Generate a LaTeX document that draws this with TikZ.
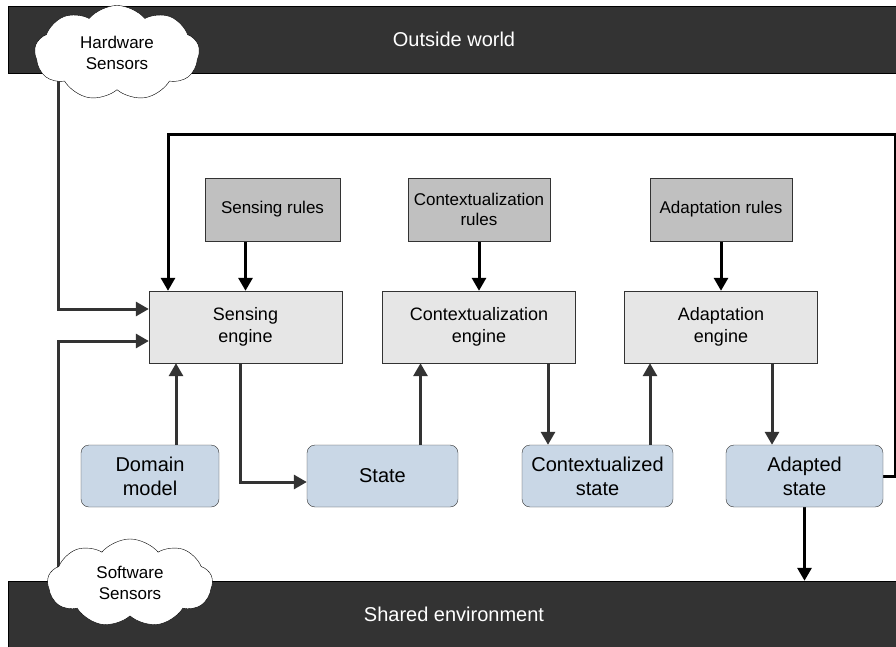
\documentclass[tikz,border=0pt]{standalone}
\usepackage{fontspec}
\setmainfont{Liberation Sans}
\usetikzlibrary{
		positioning,
		arrows.meta,
		shapes.symbols
	}
\tikzset{
		>={Triangle[length=13pt,width=14pt]}
	}
\pgfdeclarelayer{background}
\pgfsetlayers{background,main}
\definecolor{barblack}{RGB}{51,51,51}
\definecolor{rulegray}{RGB}{192,192,192}
\definecolor{enginegray}{RGB}{230,230,230}
\definecolor{stateblue}{RGB}{201,215,230}
\definecolor{linegray}{RGB}{51,51,51}

\begin{document}
\begin{tikzpicture}
		[x=1pt, y=-1pt, on grid,
		barbox/.style= {draw=black, fill=barblack, text=white, minimum width=892pt, minimum height=67pt, inner sep=0pt, font=\fontsize{20}{24}\selectfont},
		rulebox/.style= {draw=black!80, fill=rulegray, minimum width=142pt, minimum height=63pt, inner sep=0pt, align=center, font=\fontsize{17}{20}\selectfont},
		enginebox/.style= {draw=black!80, fill=enginegray, minimum width=193pt, minimum height=72pt, inner sep=0pt, align=center, font=\fontsize{18}{22}\selectfont},
		statebox/.style= {draw=black!80, fill=stateblue, rounded corners=8pt, minimum height=62pt, inner sep=0pt, align=center, font=\fontsize{20}{24}\selectfont},
		sensorcloud/.style= {cloud, cloud puffs=9, cloud puff arc=100, cloud ignores aspect, draw=black, fill=white, inner sep=0pt, align=center, font=\fontsize{17}{21}\selectfont},
		flowline/.style= {draw=linegray, line width=3pt, ->},
		feedline/.style= {draw=black, line width=3pt, ->}
		]
		\useasboundingbox (0,0) rectangle (896,647);

		\node [barbox] (OW) at (454,39.5) {Outside world};
		\node [barbox] (SH) at (454,614.5) {Shared environment};

		\node [enginebox] (SE) at (245.5,327) {Sensing\\engine};
		\node [enginebox] (CE) at (479,327) {Contextualization\\engine};
		\node [enginebox] (AE) at (721,327) {Adaptation\\engine};

		\node [rulebox, minimum width=135pt] (SR) at (272.5,209.5) {Sensing rules};
		\node [rulebox] (CR) [above=117.5pt of CE] {Contextualization\\rules};
		\node [rulebox] (AR) [above=117.5pt of AE] {Adaptation rules};

		\node [statebox, minimum width=138pt] (DM) at (150,476) {Domain\\model};
		\node [statebox, minimum width=151pt] (ST) at (382.5,476) {State};
		\node [statebox, minimum width=151pt] (CS) at (597.5,476) {Contextualized\\state};
		\node [statebox, minimum width=157pt] (AS) at (804.5,476) {Adapted\\state};

		\node [sensorcloud, minimum width=165pt, minimum height=95pt] (HW) at (117,53) {Hardware\\Sensors};
		\node [sensorcloud, minimum width=165pt, minimum height=88pt] (SW) at (130,583) {Software\\Sensors};

		\coordinate (FR) at (895,135);
		\coordinate (FL) at (168,135);

		\begin{pgfonlayer}{background}
			\draw [feedline] (AS.east) -| (FR) -- (FL) -- (FL |- SE.north);
			\draw [feedline] (SR.south -| SE.north) -- (SE.north);
			\draw [feedline] (CR.south) -- (CR.south |- CE.north);
			\draw [feedline] (AR) -- (AE);
			\draw [feedline] (AS) -- (AS |- SH.north);

			\draw [flowline] ([xshift=-59pt]HW.center) |- ([yshift=18pt]SE.west);
			\draw [flowline] ([xshift=-72pt]SW.center) |- ([yshift=-14pt]SE.west);
			\draw [flowline] ([xshift=26pt]DM.north) -- ([xshift=26pt]DM.north |- SE.south);
			\draw [flowline] ([xshift=-5pt]SE.south) |- ([yshift=-6pt]ST.west);
			\draw [flowline] ([xshift=38pt]ST.north) -- ([xshift=38pt]ST.north |- CE.south);
			\draw [flowline] ([xshift=69pt]CE.south) -- ([xshift=69pt]CE.south |- CS.north);
			\draw [flowline] ([xshift=52.5pt]CS.north) -- ([xshift=52.5pt]CS.north |- AE.south);
			\draw [flowline] ([xshift=51pt]AE.south) -- ([xshift=51pt]AE.south |- AS.north);
		\end{pgfonlayer}

	\end{tikzpicture}
\end{document}
